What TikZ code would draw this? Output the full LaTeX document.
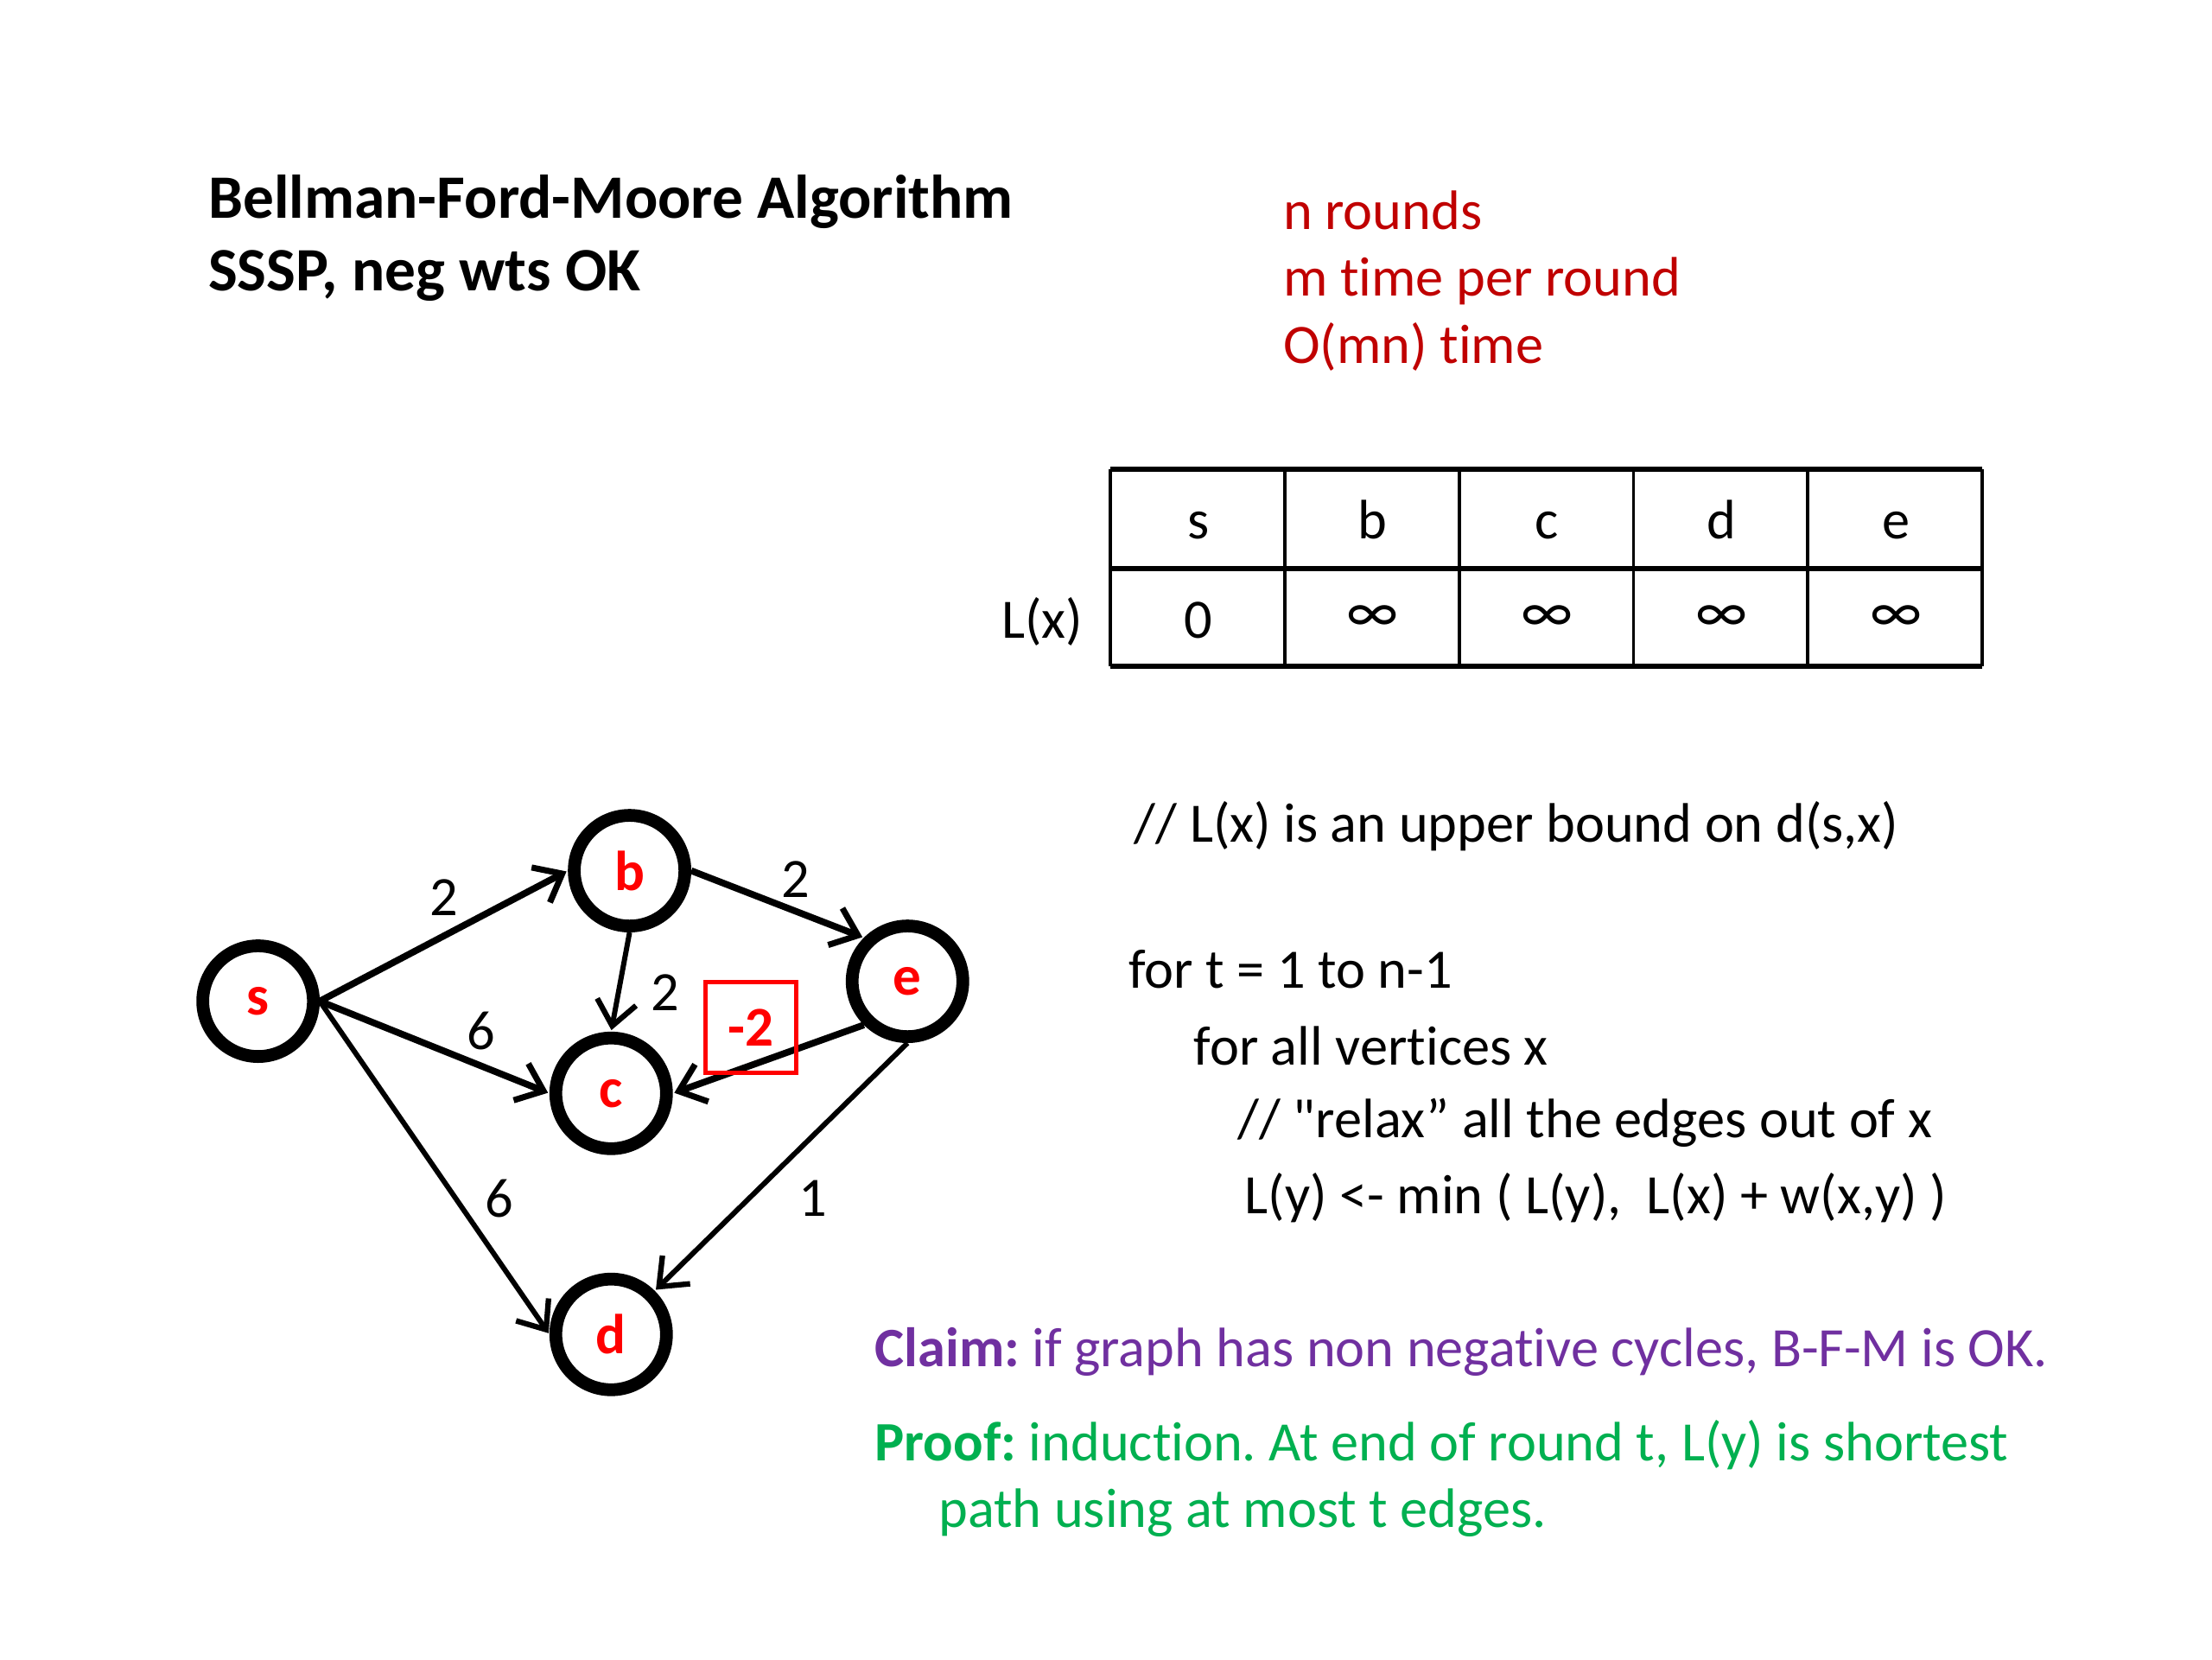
\documentclass[tikz,border=0pt]{standalone}
\usepackage{fontspec}
\setmainfont{Carlito}[Ligatures={TeXOff,NoCommon}]
\usetikzlibrary{arrows.meta}
\definecolor{dred}{HTML}{C00000}
\definecolor{nred}{HTML}{FF0000}
\definecolor{cpurple}{HTML}{7030A0}
\definecolor{cgreen}{HTML}{00B050}
\frenchspacing
\tikzset{
  txt/.style={inner sep=0pt,outer sep=0pt,anchor=base west,font=\fontsize{18.3}{22}\selectfont},
  ttl/.style={inner sep=0pt,outer sep=0pt,anchor=base west,font=\fontsize{20.3}{25}\selectfont\bfseries},
  cell/.style={inner sep=0pt,anchor=base,font=\fontsize{18.3}{22}\selectfont},
  vert/.style={circle,draw=black,line width=4.2pt,minimum size=1.28cm,inner sep=0pt,
     text=nred,font=\fontsize{18.5}{22}\selectfont\bfseries},
  wlab/.style={inner sep=0pt,font=\fontsize{18.3}{22}\selectfont},
  edgeA/.style={line width=2.2pt,-{Straight Barb[length=8pt,width=13pt,line width=2pt]},shorten >=0.5pt},
  edgeB/.style={line width=1.7pt,-{Straight Barb[length=8pt,width=13pt,line width=1.8pt]},shorten >=0.5pt},
  hline/.style={line width=1.6pt},
  vline/.style={line width=1.1pt}
}
\begin{document}
\begin{tikzpicture}[x=0.016410cm,y=-0.016410cm]
\useasboundingbox[fill=white] (0,0) rectangle (1560,1170);

% titles
\node[ttl] (t1) at (147,154) {Bellman-Ford-Moore Algorithm};
\node[ttl] (t2) at (147,205) {SSSP, neg wts OK};

% red complexity notes
\node[txt,text=dred] (r1) at (905,162) {n rounds};
\node[txt,text=dred] (r2) at (905,209) {m time per round};
\node[txt,text=dred] (r3) at (905,256) {O(mn) time};

% table
\draw[hline] (783,331) -- (1398,331);
\draw[hline] (783,401) -- (1398,401);
\draw[hline] (783,470) -- (1398,470);
\foreach \xx in {783,906,1029,1152,1275,1398}
  \draw[vline] (\xx,331) -- (\xx,470);
\node[cell] (hs) at (845,380) {s};
\node[cell] (hb) at (968,380) {b};
\node[cell] (hc) at (1091,380) {c};
\node[cell] (hd) at (1214,380) {d};
\node[cell] (he) at (1337,380) {e};
\node[cell] (vs) at (845,450) {0};
\node[cell] (vb) at (968,446) {\fontsize{20}{22}\selectfont ∞};
\node[cell] (vc) at (1091,446) {\fontsize{20}{22}\selectfont ∞};
\node[cell] (vd) at (1214,446) {\fontsize{20}{22}\selectfont ∞};
\node[cell] (ve) at (1337,446) {\fontsize{20}{22}\selectfont ∞};
\node[cell,anchor=base east] (lx) at (764,450) {L(x)};

% pseudo code
\node[txt] (p1) at (800,594) {// L(x) is an upper bound on d(s,x)};
\node[txt] (p2) at (796,697) {for t = 1 to n-1};
\node[txt] (p3) at (842,751) {for all vertices x};
\node[txt] (p4) at (873,802) {// "relax” all the edges out of x};
\node[txt] (p5) at (878,856) {L(y) <- min ( L(y),~ L(x) + w(x,y) )};

% claim / proof
\node[txt,text=cpurple] (cl) at (617,964) {\textbf{Claim:} if graph has non negative cycles, B-F-M is OK.};
\node[txt,text=cgreen] (pr1) at (617,1030) {\textbf{Proof:} induction. At end of round t, L(y) is shortest};
\node[txt,text=cgreen] (pr2) at (662,1077) {path using at most t edges.};

% graph
\node[vert] (s) at (182,706) {s};
\node[vert] (b) at (444,614) {b};
\node[vert] (c) at (431,771) {c};
\node[vert] (d) at (431,941) {d};
\node[vert] (e) at (640,692) {e};

\draw[edgeA] (s.east) -- (b.west);
\draw[edgeA] (s.east) -- (c.west);
\draw[edgeB] (s.east) -- (d.west);
\draw[edgeA] (b.east) -- (e.north west);
\draw[edgeB] (b.south) -- (c.north);
\draw[edgeA] (e.south west) -- (c.east);
\draw[edgeB] (e.south) -- (d.north east);

\node[wlab] (l1) at (313,633) {2};
\node[wlab] (l2) at (561,620) {2};
\node[wlab] (l3) at (469,700) {2};
\node[wlab] (l4) at (339,727) {6};
\node[wlab] (l5) at (352,845) {6};
\node[wlab] (l6) at (573,845) {1};
\node[draw=nred,line width=1.4pt,minimum width=1.05cm,minimum height=1.05cm,inner sep=0pt,
      text=nred,font=\fontsize{18.5}{22}\selectfont\bfseries] (neg) at (529.5,724.5) {-2};
\end{tikzpicture}
\end{document}
